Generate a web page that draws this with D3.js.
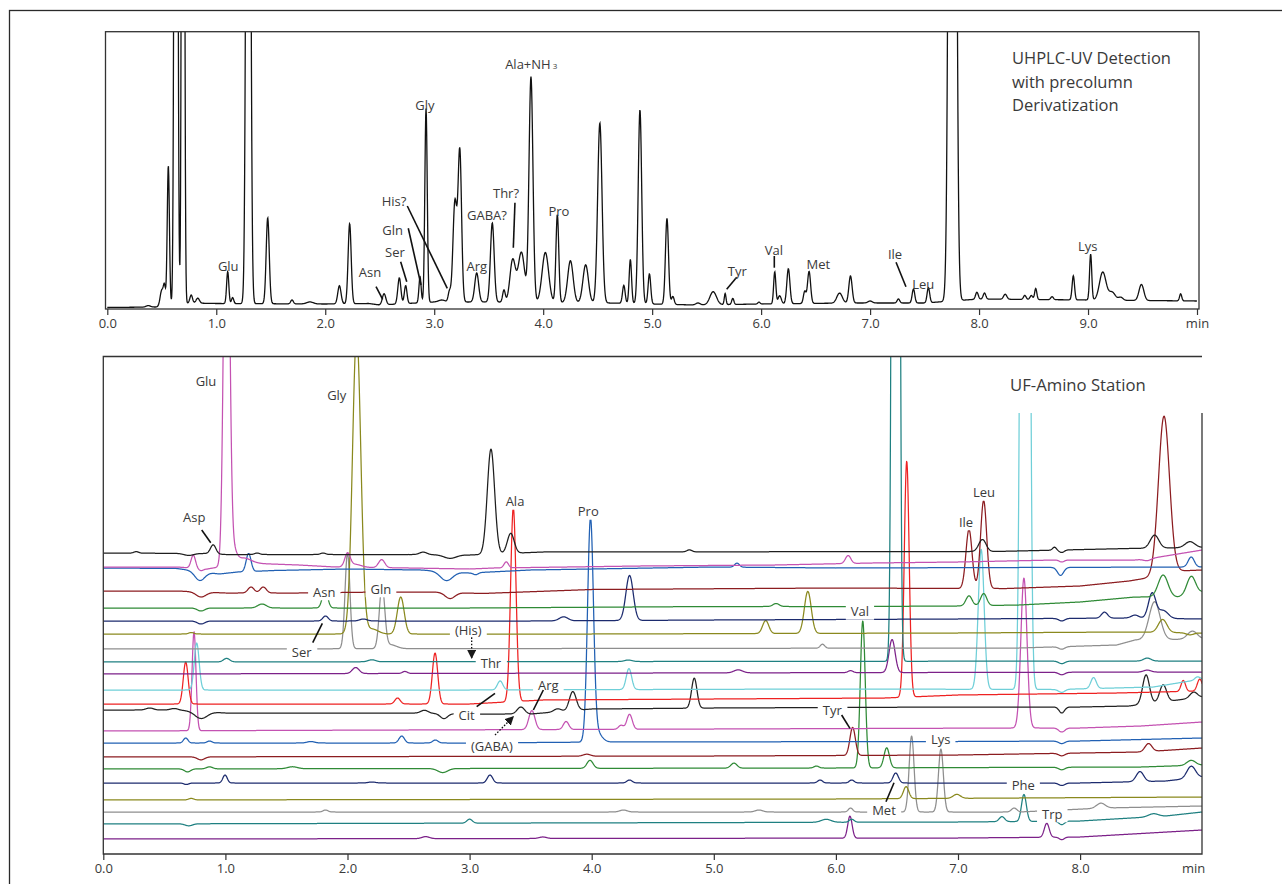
<!DOCTYPE html>
<html><head><meta charset="utf-8">
<script src="https://cdn.jsdelivr.net/npm/d3@7"></script>
<style>
body{margin:0;background:#fff;}
svg text{font-family:"Open Sans","Noto Sans",sans-serif;fill:#3a3a3a;}
</style></head><body>
<svg id="c" width="1282" height="884"></svg>
<script>
// ---------------- DATA ----------------
const topTickValues = [0,1,2,3,4,5,6,7,8,9,10];
const topTickLabels = ["0.0","1.0","2.0","3.0","4.0","5.0","6.0","7.0","8.0","9.0","min"];
const bottomTickValues = [0,1,2,3,4,5,6,7,8];
const bottomTickLabels = ["0.0","1.0","2.0","3.0","4.0","5.0","6.0","7.0","8.0"];
const topTitle = ["UHPLC-UV Detection","with precolumn","Derivatization"];
const bottomTitle = "UF-Amino Station";

// top chromatogram: baseline anchors [min, signal] and peaks [min, height, width]
const topBaseline = [[0,2.5],[0.45,3],[0.75,7],[1.0,6.5],[2.0,6],[2.4,6.5],[2.5,5],[3.0,8],[3.5,8],[4.6,7],[5.4,5],[6.0,6],[6.8,7],[7.5,7],[8.0,11],[9.0,10],[10,9]];
const topPeaks = [
 [0.376,1.5,0.02],[0.50,16,0.015],[0.525,18,0.01],[0.56,140,0.01],[0.63,1500,0.012],[0.695,1500,0.01],
 [0.77,8,0.012],[0.83,5,0.015],[1.105,32,0.01],[1.15,6,0.01],[1.294,1200,0.016],[1.472,86,0.014],
 [1.695,4,0.012],[1.86,2,0.03],[2.13,18,0.015],[2.224,80,0.014],[2.54,11,0.016],[2.68,26,0.014],
 [2.738,18,0.012],[2.87,26,0.01],[2.925,194,0.011],[3.07,2,0.03],[3.14,10,0.012],[3.19,100,0.018],
 [3.235,150,0.016],[3.39,29,0.018],[3.533,79,0.017],[3.64,12,0.012],[3.72,42,0.025],[3.80,50,0.03],
 [3.888,225,0.018],[4.02,50,0.03],[4.13,88,0.013],[4.25,42,0.025],[4.39,38,0.025],[4.52,180,0.02],
 [4.74,18,0.012],[4.80,44,0.011],[4.888,194,0.016],[4.975,30,0.012],[5.136,86,0.014],[5.19,8,0.012],
 [5.42,2,0.02],[5.56,13,0.03],[5.67,11,0.008],[5.74,6,0.01],[5.98,2,0.01],[6.125,32,0.01],[6.17,8,0.015],
 [6.25,35,0.014],[6.40,12,0.012],[6.44,32,0.014],[6.72,10,0.025],[6.82,27,0.015],[7.0,2,0.02],
 [7.26,4,0.012],[7.398,14,0.012],[7.535,15,0.012],[7.756,2000,0.023],[7.98,7,0.012],[8.05,6,0.012],
 [8.24,5,0.015],[8.42,4,0.012],[8.48,4,0.012],[8.52,11,0.01],[8.67,3,0.012],[8.865,24,0.011],
 [9.024,46,0.01],[9.135,28,0.03],[9.22,8,0.03],[9.3,3,0.02],[9.49,16,0.022],[9.85,7,0.01]
];
const topLabels = [["Glu",1.110,44],["Asn",2.411,37.7],["Ser",2.640,57.3],["Gln",2.619,80],["His?",2.631,108.3],
 ["Gly",2.915,204.3],["GABA?",3.484,95],["Arg",3.390,44],["Thr?",3.659,116.7],["Pro",4.145,99],
 ["Tyr",5.781,38.3],["Val",6.118,60],["Met",6.525,45.7],["Ile",7.229,55.7],["Leu",7.488,25.7],["Lys",8.997,63.3]];
const topSubLabel = ["Ala+NH","3",3.89,246];
const topLeaders = [[2.466,23.3,2.527,10.7],[2.692,48.3,2.748,28.3],[2.762,81.7,2.879,25],[2.753,104,3.120,21.7],
 [3.741,107.3,3.726,62.3],[5.776,32.7,5.684,20.7],[6.121,54,6.121,42.3],[7.238,47.7,7.329,23.3]];

// bottom (UF-Amino Station) traces, listed top to bottom
const traceColors = ["#1e1e1e","#c452b2","#2160b3","#8c1c20","#2f8a36","#1c2b6e","#8a891e","#8e8e8e","#1f8081","#7c2189","#6fcfd8","#ee2222",
 "#222222","#c452b2","#2160b3","#8c1c20","#2f8a36","#1c2b6e","#8a891e","#8e8e8e","#1f8081","#7c2189"];
const base01 = [[0,301],[0.85,300.5],[1.0,299.5],[2.5,299.5],[3.0,299],[3.6,302],[7.3,302.5],[8.4,305.5],[9,306.5]];
const peaks01 = [[0.27,1.5,0.02],[0.70,-2,0.04],[0.90,9,0.022],[1.26,1.5,0.02],[1.80,1.5,0.02],[2.62,2.5,0.03],[2.84,-3.5,0.05],[3.175,105,0.03],[3.337,20,0.028],[4.80,2,0.02],[7.20,12,0.03],[7.79,3,0.015],[7.85,-2.5,0.02],[8.61,13,0.035],[8.90,6,0.04]];
const base02 = [[0,287],[0.6,287],[0.85,285],[1.15,291],[1.6,289],[1.9,287],[2.5,286],[3.0,285],[3.2,286],[4.4,288],[5.5,289],[6.3,291],[7.0,292],[7.8,294],[8.45,294],[8.6,296],[8.75,299],[9,304]];
const peaks02 = [[0.737,13,0.018],[0.80,-2,0.02],[1.01,500,0.022],[1.06,15,0.03],[1.15,5,0.06],[2.0,13,0.022],[2.06,3,0.05],[2.28,8,0.025],[3.30,6,0.018],[6.10,8,0.022],[7.85,-2,0.02],[8.55,-2,0.03]];
const base03 = [[0,286],[0.6,285.5],[0.95,280],[1.1,282],[1.4,283.5],[2.0,285],[2.6,284],[3.0,281],[3.5,284],[5.0,287],[6.0,286],[9,287]];
const peaks03 = [[0.79,-9,0.04],[1.19,18,0.02],[2.81,-9,0.05],[3.05,-2,0.02],[5.19,4,0.02],[7.84,-8,0.025],[8.91,10,0.025]];
const base04 = [[0,263],[0.6,263],[1.0,261],[1.6,261],[2.3,262],[2.7,262],[3.1,260.5],[4.0,264.5],[6.0,266],[7.0,265.5],[7.4,265.5],[8.0,268],[8.4,273],[8.55,276],[8.8,283],[9,284]];
const peaks04 = [[0.80,-5,0.04],[1.21,6,0.025],[1.31,6,0.025],[2.84,-6,0.04],[7.09,59,0.025],[7.21,88,0.025],[8.687,158,0.045]];
const base05 = [[0,246],[1.5,246],[3,246],[5,247.5],[6.2,247.5],[7.0,248],[7.5,249],[8.0,252],[8.45,257],[8.8,257],[9,262]];
const peaks05 = [[0.80,-3,0.03],[1.30,4,0.035],[1.816,18,0.022],[5.51,3,0.025],[7.09,10,0.025],[7.21,12,0.025],[8.68,22,0.04],[8.91,18,0.035]];
const base06 = [[0,233],[3.5,233],[5,234],[7,235],[8.4,236],[9,235]];
const peaks06 = [[0.80,-3,0.03],[1.82,5,0.022],[2.13,2,0.03],[3.77,4,0.035],[4.31,45,0.03],[7.85,-2.5,0.025],[8.20,6,0.025],[8.45,3,0.03],[8.59,25,0.03],[8.68,8,0.04]];
const base07 = [[0,220],[4,220],[7,221],[8.4,222],[9,221]];
const peaks07 = [[0.72,1.5,0.02],[2.075,300,0.034],[2.2,5,0.05],[2.436,37,0.028],[5.425,13,0.025],[5.77,42,0.028],[8.676,13,0.035],[8.9,-2,0.03]];
const base08 = [[0,205],[7.5,206],[8.3,209],[8.45,214],[9,215]];
const peaks08 = [[2.0,96,0.02],[2.283,62,0.022],[2.35,4,0.05],[5.89,4,0.018],[7.85,-2.5,0.025],[8.61,38,0.045],[8.92,8,0.04]];
const base09 = [[0,192],[9,193]];
const peaks09 = [[1.01,3.5,0.025],[2.2,2,0.03],[4.3,1.5,0.03],[6.49,3500,0.0185],[7.85,-2.5,0.025],[8.55,3,0.03]];
const base10 = [[0,180],[9,182]];
const peaks10 = [[2.067,6,0.028],[2.47,2,0.02],[5.2,3,0.035],[6.12,2,0.02],[6.46,33,0.025],[7.85,-2.5,0.025],[8.55,2,0.03]];
const base11 = [[0,164],[3,164],[6,165],[7.8,164.5],[8.6,167],[8.85,172],[9,175]];
const peaks11 = [[0.765,47,0.02],[3.25,9,0.022],[4.305,21,0.022],[7.19,140,0.024],[7.55,2500,0.0234],[7.85,-3,0.025],[8.11,11,0.022],[8.96,3,0.02]];
const base12 = [[0,150],[2,150],[3.0,150],[3.6,154],[6.4,156],[7.0,159],[8.3,161],[9,163]];
const peaks12 = [[0.675,42,0.02],[2.41,6,0.022],[2.717,51,0.022],[3.358,194,0.022],[6.58,236,0.02],[8.845,11,0.018],[8.98,12,0.02]];
const base13 = [[0,144],[0.6,144],[1.0,141],[2.5,141],[3.0,140],[3.5,140],[4.0,145],[5,146],[7,147],[8,147],[8.4,148],[9,157]];
const peaks13 = [[0.38,2,0.03],[0.58,1.5,0.03],[0.80,-7,0.05],[2.63,3,0.03],[2.79,-5,0.03],[3.42,7,0.03],[3.72,3,0.03],[3.845,19,0.028],[4.84,30,0.022],[7.85,-6,0.022],[8.54,29,0.028],[8.68,17,0.028],[8.93,6,0.03]];
const base14 = [[0,123],[7.5,126],[8.0,126],[8.5,128],[9,132]];
const peaks14 = [[0.743,99,0.016],[3.51,19,0.025],[3.79,8,0.022],[4.24,4,0.02],[4.31,15,0.022],[7.54,150,0.025],[7.85,-4,0.025]];
const base15 = [[0,111],[3,111],[4.1,112],[7,112.5],[8,113],[9,116]];
const peaks15 = [[0.675,5,0.018],[0.87,2,0.02],[1.7,1.5,0.03],[2.444,7,0.022],[2.72,3,0.022],[3.99,220,0.024],[4.04,10,0.04],[7.85,-2.5,0.025]];
const base16 = [[0,97],[5,98],[7,99],[8.5,102],[9,106]];
const peaks16 = [[0.80,-3,0.03],[3.96,2,0.03],[6.137,28,0.022],[7.85,-2.5,0.025],[8.56,8,0.028]];
const base17 = [[0,85],[6,86],[8.5,87],[9,89]];
const peaks17 = [[0.69,-3,0.025],[0.87,2,0.025],[1.55,2,0.04],[2.78,-4,0.04],[3.986,8,0.025],[5.165,5,0.025],[5.84,2,0.02],[6.22,147,0.02],[6.416,20,0.022],[7.85,-2.5,0.025],[8.91,5,0.035]];
const base18 = [[0,71],[8,71],[8.7,73],[9,77]];
const peaks18 = [[0.68,-1.5,0.02],[0.997,8,0.018],[2.2,1,0.03],[3.167,8,0.022],[4.31,3,0.022],[5.87,3,0.02],[6.13,3,0.02],[6.49,10,0.022],[7.85,-2.5,0.025],[8.49,10,0.03],[8.91,12,0.035]];
const base19 = [[0,54],[6,55],[9,57]];
const peaks19 = [[0.72,1.5,0.02],[6.575,12,0.022],[6.99,4,0.03]];
const base20 = [[0,42],[7.5,42],[8.2,46],[9,48]];
const peaks20 = [[1.82,2,0.02],[4.26,2,0.03],[5.37,2,0.03],[6.12,4,0.018],[6.62,76,0.02],[6.86,63,0.02],[7.46,4,0.022],[8.17,5,0.035]];
const base21 = [[0,30],[7,32],[8,33],[8.7,38],[9,42]];
const peaks21 = [[0.70,-2,0.03],[3.0,4,0.022],[5.92,3,0.04],[6.13,3,0.02],[7.36,5,0.022],[7.54,27,0.02],[7.85,-3.5,0.022],[8.6,3,0.04]];
const base22 = [[0,15],[7,16],[8,17],[9,24]];
const peaks22 = [[2.64,2,0.03],[3.6,1.5,0.03],[6.115,22,0.018],[7.727,14,0.02],[7.85,-2.5,0.02]];

const bottomLabels = [["Glu",0.841,472.3],["Gly",1.912,459],["Asp",0.745,336.7],["Asn",1.81,261.7],["Gln",2.274,264.7],
 ["Ala",3.372,352.3],["Pro",3.972,342.3],["Val",6.197,242.3],["Ile",7.066,331.7],["Leu",7.213,361.3],["Ser",1.625,201.7],
 ["(His)",2.989,223.3],["Thr",3.175,191],["Cit",2.976,139],["(GABA)",3.183,107.3],["Arg",3.645,168.3],["Tyr",5.97,144],
 ["Lys",6.858,114.7],["Phe",7.535,69],["Met",6.394,43.3],["Trp",7.772,39.7]];
const bottomLeaders = [[0.806,324,0.880,311.3],[1.715,211.3,1.794,230.7],[3.058,147.3,3.208,160.7],[3.604,164,3.522,144],
 [6.047,139,6.115,125.7],[6.410,52.3,6.476,71.3]];
const bottomArrows = [[3.017,216.7,3.017,196],[3.208,119,3.358,137.3]];

// ---------------- DRAW ----------------
const traces = [
 [base01,peaks01],[base02,peaks02],[base03,peaks03],[base04,peaks04],[base05,peaks05],[base06,peaks06],
 [base07,peaks07],[base08,peaks08],[base09,peaks09],[base10,peaks10],[base11,peaks11],[base12,peaks12],
 [base13,peaks13],[base14,peaks14],[base15,peaks15],[base16,peaks16],[base17,peaks17],[base18,peaks18],
 [base19,peaks19],[base20,peaks20],[base21,peaks21],[base22,peaks22]].map((d,i)=>({base:d[0],peaks:d[1],color:traceColors[i]}));

const svg = d3.select("#c");
const defs = svg.append("defs");
defs.append("marker").attr("id","ah").attr("viewBox","0 0 10 10").attr("refX",9).attr("refY",5)
  .attr("markerWidth",7).attr("markerHeight",7).attr("orient","auto")
  .append("path").attr("d","M0,0 L10,5 L0,10 Z").attr("fill","#1a1a1a");

svg.append("rect").attr("x",9.5).attr("y",10.5).attr("width",1300).attr("height",900)
  .attr("fill","none").attr("stroke","#2a2a2a").attr("stroke-width",1.3);

function signalFn(baseAnchors, peaks){
  const b = d3.scaleLinear().domain(baseAnchors.map(d=>d[0])).range(baseAnchors.map(d=>d[1])).clamp(true);
  return t => {
    let v = b(t);
    for (const [c,h,s] of peaks){ const z=(t-c)/s; if (z>-9 && z<9) v += h*Math.exp(-0.5*z*z); }
    return v;
  };
}

// ----- top panel -----
const TX0=105.5, TX1=1199, TY0=31.7, TY1=309;
const xT = d3.scaleLinear().domain([0,10]).range([107.3,1197]);
const yT = d3.scaleLinear().domain([0,278]).range([310,32]);
defs.append("clipPath").attr("id","clipT").append("rect").attr("x",TX0).attr("y",TY0).attr("width",TX1-TX0).attr("height",TY1-TY0);
const topFn = signalFn(topBaseline, topPeaks);
const tsTop = d3.range(0, 10.0001, 0.003);
svg.append("path").attr("clip-path","url(#clipT)")
  .attr("d", d3.line().x(t=>xT(t)).y(t=>yT(topFn(t)))(tsTop))
  .attr("fill","none").attr("stroke","#111").attr("stroke-width",1.3);
svg.append("rect").attr("x",TX0).attr("y",TY0).attr("width",TX1-TX0).attr("height",TY1-TY0)
  .attr("fill","none").attr("stroke","#333").attr("stroke-width",1.3);
const axT = svg.append("g").attr("transform",`translate(0,${TY1})`)
  .call(d3.axisBottom(xT).tickValues(topTickValues).tickFormat((d,i)=>topTickLabels[i]).tickSize(6).tickPadding(4));
axT.select(".domain").remove();
axT.selectAll("line").attr("stroke","#333").attr("stroke-width",1.2);
axT.selectAll("text").style("font-size","13px").style("font-family","'Open Sans',sans-serif").attr("fill","#444");

topTitle.forEach((s,i)=>svg.append("text").attr("x",1012).attr("y",64+i*23.5).style("font-size","16.5px").text(s));

topLeaders.forEach(d=>svg.append("line").attr("x1",xT(d[0])).attr("y1",yT(d[1])).attr("x2",xT(d[2])).attr("y2",yT(d[3]))
  .attr("stroke","#111").attr("stroke-width",1.6));
topLabels.forEach(d=>svg.append("text").attr("x",xT(d[1])).attr("y",yT(d[2])+4.7).attr("text-anchor","middle").style("font-size","13px").text(d[0]));
const sl = svg.append("text").attr("x",xT(topSubLabel[2])).attr("y",yT(topSubLabel[3])+4.7).attr("text-anchor","middle").style("font-size","13px");
sl.append("tspan").text(topSubLabel[0]);
sl.append("tspan").attr("dx",2).style("font-size","8px").text(topSubLabel[1]);

// ----- bottom panel -----
const BX0=103.3, BX1=1202, BY0=356.5, BY1=854;
const xB = d3.scaleLinear().domain([0,9]).range([103.3,1202.2]);
const yB = d3.scaleLinear().domain([0,498]).range([854,356]);
defs.append("clipPath").attr("id","clipB").append("rect").attr("x",BX0).attr("y",BY0).attr("width",BX1-BX0).attr("height",BY1-BY0);
const tsB = d3.range(0, 9.0001, 0.003);
const gTr = svg.append("g").attr("clip-path","url(#clipB)");
traces.slice().reverse().forEach(tr=>{
  const f = signalFn(tr.base, tr.peaks);
  gTr.append("path").attr("d", d3.line().x(t=>xB(t)).y(t=>yB(f(t)))(tsB))
    .attr("fill","none").attr("stroke",tr.color).attr("stroke-width",1.25).attr("stroke-linejoin","round");
});
// title box covering upper right
svg.append("rect").attr("x",962).attr("y",BY0+0.5).attr("width",1203-962).attr("height",412.5-BY0).attr("fill","#fff");
svg.append("text").attr("x",1010).attr("y",391).style("font-size","16.7px").text(bottomTitle);
// frame (right side open at the title box)
svg.append("path").attr("d",`M${BX1},413 L${BX1},${BY1} L${BX0},${BY1} L${BX0},${BY0} L${BX1},${BY0}`)
  .attr("fill","none").attr("stroke","#333").attr("stroke-width",1.3);
const axB = svg.append("g").attr("transform",`translate(0,${BY1})`)
  .call(d3.axisBottom(xB).tickValues(bottomTickValues).tickFormat((d,i)=>bottomTickLabels[i]).tickSize(6).tickPadding(4));
axB.select(".domain").remove();
axB.selectAll("line").attr("stroke","#333").attr("stroke-width",1.2);
axB.selectAll("text").style("font-size","13px").style("font-family","'Open Sans',sans-serif").attr("fill","#444");
svg.append("text").attr("x",xB(8.93)).attr("y",BY1+19).attr("text-anchor","middle").style("font-size","13px").attr("fill","#444").text("min");

// labels with white background
bottomLabels.forEach(d=>{
  const g = svg.append("g");
  const cx = xB(d[1]), cy = yB(d[2]);
  const r = g.append("rect").attr("fill","#fff");
  const t = g.append("text").attr("x",cx).attr("y",cy+4.7).attr("text-anchor","middle").style("font-size","13px").text(d[0]);
  const bb = t.node().getBBox();
  r.attr("x",bb.x-5).attr("y",cy-8).attr("width",bb.width+10).attr("height",16);
});
bottomLeaders.forEach(d=>svg.append("line").attr("x1",xB(d[0])).attr("y1",yB(d[1])).attr("x2",xB(d[2])).attr("y2",yB(d[3]))
  .attr("stroke","#111").attr("stroke-width",1.6));
bottomArrows.forEach(d=>svg.append("line").attr("x1",xB(d[0])).attr("y1",yB(d[1])).attr("x2",xB(d[2])).attr("y2",yB(d[3]))
  .attr("stroke","#111").attr("stroke-width",1.3).attr("stroke-dasharray","1.6,1.6").attr("marker-end","url(#ah)"));
</script>
</body></html>
